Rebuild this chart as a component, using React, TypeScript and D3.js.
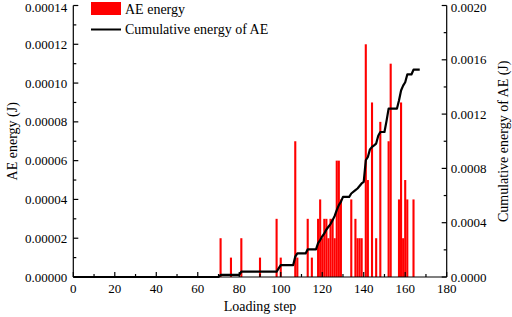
import React from "react";
import * as d3 from "d3";

const barSteps = [71, 76, 81, 90, 98, 100, 107, 108, 113, 115, 118, 119, 120, 121, 122, 123, 124, 125, 126, 127, 128, 129, 134, 136, 137, 138, 139, 141, 142, 144, 146, 148, 152, 153, 157, 158, 159, 160, 161, 164];
const barValues = [0.00002, 0.00001, 0.00002, 0.00001, 0.00003, 0.00001, 0.00007, 0.00001, 0.00003, 0.00001, 0.00003, 0.00004, 0.00002, 0.00003, 0.00003, 0.00002, 0.00003, 0.00003, 0.00002, 0.00006, 0.00006, 0.00004, 0.00004, 0.00003, 0.00002, 0.00002, 0.00002, 0.00012, 0.00005, 0.00009, 0.00002, 0.00008, 0.00007, 0.00011, 0.00004, 0.00009, 0.00002, 0.00005, 0.00004, 0.00004];

const cumSteps = [0, 70, 71, 80, 81, 98, 99, 100, 106, 107, 108, 112, 113, 117, 118, 119, 120, 121, 122, 123, 124, 125, 126, 127, 128, 129, 130, 133, 134, 136, 137, 139, 140, 141, 142, 143, 144, 145, 146, 147, 148, 150, 151, 152, 156, 157, 158, 159, 160, 161, 163, 164, 166, 167];
const cumValues = [0, 0, 0.000015, 0.000015, 0.000039, 0.000039, 0.000064, 0.000088, 0.000088, 0.00015, 0.000174, 0.000174, 0.000204, 0.000204, 0.00025, 0.000272, 0.0003, 0.000321, 0.00035, 0.00037, 0.00039, 0.000419, 0.00045, 0.000493, 0.00053, 0.000553, 0.00059, 0.00059, 0.000615, 0.00064, 0.000652, 0.000689, 0.0007, 0.00086, 0.000884, 0.00094, 0.000958, 0.00097, 0.000983, 0.00104, 0.001068, 0.001068, 0.00115, 0.00124, 0.00124, 0.0013, 0.001374, 0.00141, 0.001435, 0.001492, 0.001492, 0.001527, 0.001527, 0.001527];

const xTicks = [0, 20, 40, 60, 80, 100, 120, 140, 160, 180];
const leftTicks = [0, 0.00002, 0.00004, 0.00006, 0.00008, 0.0001, 0.00012, 0.00014];
const rightTicks = [0, 0.0004, 0.0008, 0.0012, 0.0016, 0.002];

export default function App() {
  const L = 73.3, R = 446.7, T = 5.5, B = 277;
  const x = d3.scaleLinear().domain([0, 180]).range([L, R]);
  const yL = d3.scaleLinear().domain([0, 0.00014]).range([B, T]);
  const yR = d3.scaleLinear().domain([0, 0.002]).range([B, T]);
  const font = "'Liberation Serif', 'Times New Roman', serif";
  const line = d3.line<number>().x((_, i) => x(cumSteps[i])).y((d) => yR(d));
  const xMinor = d3.range(10, 180, 20);
  const lMinor = d3.range(1, 14, 2).map((v) => v * 0.00001);
  const rMinor = d3.range(1, 10, 2).map((v) => v * 0.0002);
  const bw = 2.1;
  return (
    <svg width={512} height={317} style={{ position: "absolute", left: 0, top: 0, background: "#fff" }} fontFamily={font}>
      <rect x={0} y={0} width={512} height={317} fill="#fff" />
      {barSteps.map((s, i) => (
        <rect key={i} x={x(s) - bw / 2} y={yL(barValues[i])} width={bw} height={B - yL(barValues[i])} fill="#ff0000" />
      ))}
      <path d={line(cumValues) || ""} fill="none" stroke="#000" strokeWidth={2.2} strokeLinejoin="round" />
      <g stroke="#000" strokeWidth={1.2} fill="none">
        <line x1={L} y1={T} x2={L} y2={B} />
        <line x1={R} y1={T} x2={R} y2={B} />
        <line x1={L} y1={B} x2={R} y2={B} />
        {xTicks.map((t) => (
          <line key={"xt" + t} x1={x(t)} x2={x(t)} y1={B} y2={B - 5} />
        ))}
        {xMinor.map((t) => (
          <line key={"xm" + t} x1={x(t)} x2={x(t)} y1={B} y2={B - 3} />
        ))}
        {leftTicks.map((t) => (
          <line key={"lt" + t} x1={L} x2={L + 5} y1={yL(t)} y2={yL(t)} />
        ))}
        {lMinor.map((t) => (
          <line key={"lm" + t} x1={L} x2={L + 3} y1={yL(t)} y2={yL(t)} />
        ))}
        {rightTicks.map((t) => (
          <line key={"rt" + t} x1={R} x2={R - 5} y1={yR(t)} y2={yR(t)} />
        ))}
        {rMinor.map((t) => (
          <line key={"rm" + t} x1={R} x2={R - 3} y1={yR(t)} y2={yR(t)} />
        ))}
      </g>
      <g fontSize={13} fill="#000">
        {xTicks.map((t) => (
          <text key={"xl" + t} x={x(t)} y={293} textAnchor="middle">{t}</text>
        ))}
        {leftTicks.map((t) => (
          <text key={"ll" + t} x={L - 6} y={Math.max(yL(t) + 4.5, 12)} textAnchor="end">{t.toFixed(5)}</text>
        ))}
        {rightTicks.map((t) => (
          <text key={"rl" + t} x={R + 4} y={Math.max(yR(t) + 4.5, 12)} textAnchor="start">{t.toFixed(4)}</text>
        ))}
      </g>
      <text x={(L + R) / 2} y={311} textAnchor="middle" fontSize={14}>Loading step</text>
      <text transform={`translate(17,${(T + B) / 2}) rotate(-90)`} textAnchor="middle" fontSize={14}>AE energy (J)</text>
      <text transform={`translate(508,${(T + B) / 2}) rotate(-90)`} textAnchor="middle" fontSize={14}>Cumulative energy of AE (J)</text>
      <rect x={91} y={2} width={30} height={13} fill="#ff0000" />
      <text x={125} y={14} fontSize={14}>AE energy</text>
      <line x1={91} x2={121} y1={29.5} y2={29.5} stroke="#000" strokeWidth={2} />
      <text x={125} y={34} fontSize={14}>Cumulative energy of AE</text>
    </svg>
  );
}
